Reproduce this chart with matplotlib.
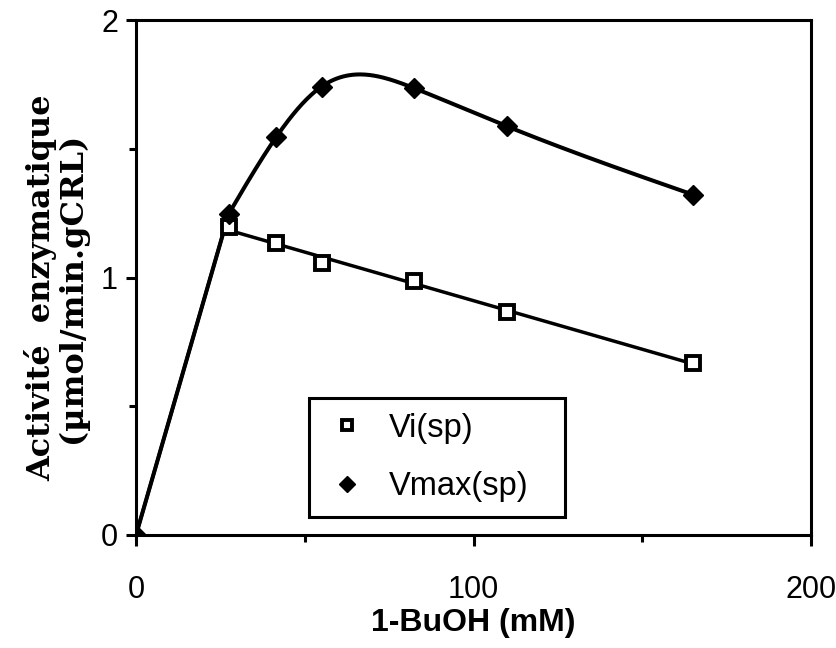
import numpy as np
import matplotlib
matplotlib.use("Agg")
import matplotlib.pyplot as plt
from matplotlib.ticker import MultipleLocator

# ---- data ----
butanol_mM = [0, 27.5, 41.5, 55, 82.5, 110, 165]
vi_sp = [0, 1.195, 1.133, 1.058, 0.988, 0.866, 0.668]
vmax_sp = [0, 1.248, 1.545, 1.742, 1.735, 1.587, 1.322]
x_ticks = [0, 100, 200]
y_ticks = [0, 1, 2]
series_labels = ["Vi(sp)", "Vmax(sp)"]


def natural_spline(x, y, n=400):
    """Natural cubic spline y(x) through the points."""
    x = np.asarray(x, float)
    y = np.asarray(y, float)
    k = len(x)
    h = np.diff(x)
    A = np.zeros((k, k))
    r = np.zeros(k)
    A[0, 0] = A[-1, -1] = 1.0
    for i in range(1, k - 1):
        A[i, i - 1] = h[i - 1]
        A[i, i] = 2 * (h[i - 1] + h[i])
        A[i, i + 1] = h[i]
        r[i] = 6 * ((y[i + 1] - y[i]) / h[i] - (y[i] - y[i - 1]) / h[i - 1])
    M = np.linalg.solve(A, r)
    xs = np.linspace(x[0], x[-1], n)
    idx = np.clip(np.searchsorted(x, xs) - 1, 0, k - 2)
    x0, x1 = x[idx], x[idx + 1]
    hh = x1 - x0
    t0 = x1 - xs
    t1 = xs - x0
    ys = (M[idx] * t0 ** 3 + M[idx + 1] * t1 ** 3) / (6 * hh) \
        + (y[idx] / hh - M[idx] * hh / 6) * t0 + (y[idx + 1] / hh - M[idx + 1] * hh / 6) * t1
    return xs, ys


fig = plt.figure(figsize=(8.37, 6.48), dpi=100)
ax = fig.add_axes([0.1625, 0.1744, 0.969 - 0.1625, 0.969 - 0.1744])

x = np.array(butanol_mM, dtype=float)
vi = np.array(vi_sp)
vm = np.array(vmax_sp)

# Vi: initial rise (same slope as first Vmax point) then linear regression
slope0 = vm[1] / x[1]
a, b = np.polyfit(x[1:], vi[1:], 1)
xc = b / (slope0 - a)
ax.plot([x[0], xc, x[-1]], [0, slope0 * xc, a * x[-1] + b], color="black", lw=2.5,
        solid_joinstyle="miter", zorder=2)

# Vmax: straight rise then smoothed curve
sx, sy = natural_spline(x[1:], vm[1:])
ax.plot(np.concatenate([[x[0]], sx]), np.concatenate([[vm[0]], sy]), color="black",
        lw=2.9, zorder=2)

ax.plot(x[1:], vi[1:], ls="none", marker="s", ms=9.5, mfc="white", mec="black", mew=2.8,
        zorder=3, label=series_labels[0])
ax.plot(x, vm, ls="none", marker="D", ms=10, mfc="black", mec="black", zorder=3,
        label=series_labels[1])

ax.set_xlim(0, 200)
ax.set_ylim(0, 2)
ax.set_xticks(x_ticks)
ax.set_yticks(y_ticks)
ax.xaxis.set_minor_locator(MultipleLocator(50))
ax.yaxis.set_minor_locator(MultipleLocator(0.5))

for s in ax.spines.values():
    s.set_linewidth(2.2)

tick_font = {"family": "Liberation Sans", "size": 22}
ax.set_xticklabels([str(v) for v in x_ticks], fontdict=tick_font)
ax.set_yticklabels([str(v) for v in y_ticks], fontdict=tick_font)
ax.tick_params(axis="x", which="major", direction="out", length=8, width=2.2, pad=21)
ax.tick_params(axis="x", which="minor", direction="out", length=5, width=2.2)
ax.tick_params(axis="y", which="major", direction="out", length=7, width=2.2, pad=6)
ax.tick_params(axis="y", which="minor", direction="out", length=5, width=2.2)

ax.set_xlabel("1-BuOH (mM)", family="Liberation Sans", weight="bold", size=23, labelpad=2)
ax.set_ylabel("Activité  enzymatique\n(µmol/min.gCRL)", family="DejaVu Serif",
              weight="bold", size=23, linespacing=1.0)
ax.yaxis.set_label_coords(-0.071, 0.48)

leg = ax.legend(loc="lower left", bbox_to_anchor=(0.257, 0.035, 0.379, 0.24),
                mode="expand", borderaxespad=0,
                prop={"family": "Liberation Sans", "size": 23.5}, frameon=True,
                fancybox=False, edgecolor="black", handlelength=1.375, handletextpad=0.62,
                borderpad=0.45, labelspacing=0.85, markerscale=0.8)
leg.get_frame().set_linewidth(2.2)
leg.get_frame().set_alpha(1)

fig.savefig("out.png", dpi=100, facecolor="white")
